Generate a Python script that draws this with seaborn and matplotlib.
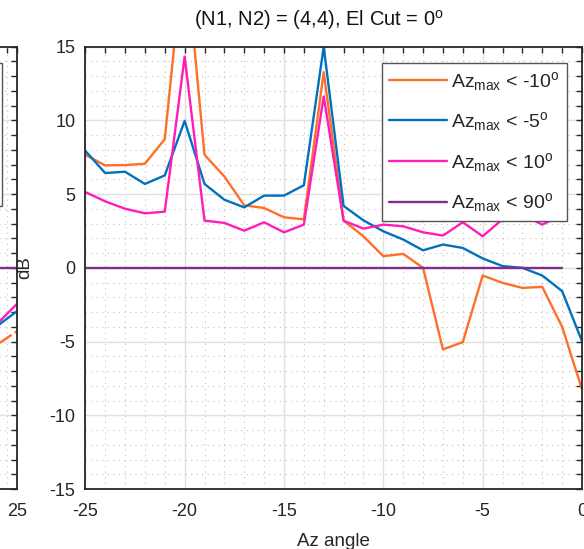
import numpy as np
import pandas as pd
import matplotlib
matplotlib.use("Agg")
import matplotlib.pyplot as plt
from matplotlib.ticker import MultipleLocator
import seaborn as sns

# datos (panel derecho)
az = list(range(-25, 1))
az_corto = list(range(-25, 0))

db_menos10 = [7.67, 6.95, 6.97, 7.06, 8.73, 22.0, 7.67, 6.2, 4.24, 4.06,
              3.43, 3.29, 13.27, 3.2, 2.14, 0.79, 0.95, 0.0, -5.53, -5.04,
              -0.52, -1.02, -1.36, -1.29, -4.0, -8.24]
db_menos5 = [7.94, 6.43, 6.52, 5.69, 6.27, 9.97, 5.69, 4.62, 4.1, 4.9,
             4.9, 5.6, 15.0, 4.2, 3.22, 2.48, 1.92, 1.19, 1.58, 1.35,
             0.64, 0.12, 0.0, -0.52, -1.58, -4.97]
db_10 = [5.14, 4.51, 4.01, 3.7, 3.81, 14.33, 3.2, 3.05, 2.52, 3.09,
         2.41, 2.93, 11.62, 3.2, 2.66, 2.93, 2.82, 2.41, 2.19, 3.09,
         2.14, 3.3, 3.6, 2.93, 3.6]
db_90 = [0.0] * 25

# trozo visible del panel izquierdo
az_izq = [23, 25]
izq_menos10 = [-5.2, -4.3]
izq_menos5 = [-3.95, -2.94]
izq_10 = [-3.8, -2.44]
izq_90 = [0.0, 0.0]

etiquetas = [r"Az$_{\rm max}$ < -10$^{\rm o}$",
             r"Az$_{\rm max}$ < -5$^{\rm o}$",
             r"Az$_{\rm max}$ < 10$^{\rm o}$",
             r"Az$_{\rm max}$ < 90$^{\rm o}$"]
colores = ["#FF6E2A", "#0072BD", "#FF1DB8", "#7E2F8E"]

sns.set_theme(style="white")
plt.rcParams['font.family'] = ['Liberation Sans', 'DejaVu Sans']
plt.rcParams['mathtext.fontset'] = 'custom'
plt.rcParams['mathtext.rm'] = 'Liberation Sans'
plt.rcParams['mathtext.it'] = 'Liberation Sans:italic'
plt.rcParams['axes.unicode_minus'] = False

fig = plt.figure(figsize=(5.84, 5.49), dpi=100)
W, H = 584, 549
ax = fig.add_axes([85.3 / W, 60 / H, 496.7 / W, 442.3 / H])
ax_izq = fig.add_axes([-479.7 / W, 60 / H, 496.7 / W, 442.3 / H])


def estilo_ejes(a):
    # cuadricula y ticks como en matlab
    a.set_ylim(-15, 15)
    a.yaxis.set_major_locator(MultipleLocator(5))
    a.yaxis.set_minor_locator(MultipleLocator(1))
    a.xaxis.set_major_locator(MultipleLocator(5))
    a.xaxis.set_minor_locator(MultipleLocator(1))
    a.grid(True, which='major', color='#e0e0e0', linewidth=1.0, linestyle='-')
    a.grid(True, which='minor', color='#c0c0c0', linewidth=0.8, linestyle=(0, (1, 4)))
    a.set_axisbelow(True)
    a.tick_params(which='both', direction='in', length=4, width=1.0,
                  top=True, right=True, color='#262626', labelsize=13,
                  labelcolor='#262626')
    a.tick_params(axis='y', pad=7)
    a.tick_params(axis='x', pad=10)
    for s in a.spines.values():
        s.set_color('#262626')
        s.set_linewidth(1.3)


# panel izquierdo (casi fuera de la imagen)
estilo_ejes(ax_izq)
ax_izq.set_xlim(-25, 25)
ax_izq.set_yticklabels([])
for y, c, ls in zip([izq_menos10, izq_menos5, izq_10, izq_90], colores,
                    ['-.', '-', '-', '-']):
    sns.lineplot(x=az_izq, y=y, ax=ax_izq, color=c, linewidth=1.7,
                 linestyle=ls, estimator=None, sort=False)
ax_izq.set_xlabel('')
ax_izq.set_ylabel('')

# panel derecho
estilo_ejes(ax)
ax.set_xlim(-25, 0)
series = [(az, db_menos10), (az, db_menos5), (az_corto, db_10), (az_corto, db_90)]
for (x, y), c, lab in zip(series, colores, etiquetas):
    sns.lineplot(x=x, y=y, ax=ax, color=c, linewidth=1.7, label=lab,
                 estimator=None, sort=False)

ax.set_title("(N1, N2) = (4,4), El Cut = 0$^{\\rm o}$", fontsize=14.5,
             color='#111111', x=0.47, pad=15)
ax.set_xlabel("Az angle", fontsize=13.5, color='#262626')
ax.set_ylabel("dB", fontsize=13.5, color='#262626')
ax.xaxis.set_label_coords(0.5, -0.0995)
ax.yaxis.set_label_coords(-0.105, 0.5)

h, l = ax.get_legend_handles_labels()
leg = ax.legend(h, l, loc='upper left', bbox_to_anchor=(381.7 / W, 1 - 63 / H),
                bbox_transform=fig.transFigure, fontsize=14, handlelength=3.0,
                handletextpad=0.22, labelspacing=0.9, borderpad=0.35,
                borderaxespad=0, fancybox=False, framealpha=1,
                edgecolor='#555555')
leg.get_frame().set_linewidth(1.0)
leg_izq = ax_izq.legend(h, l, loc='upper right', bbox_to_anchor=(2 / W, 1 - 63 / H),
                        bbox_transform=fig.transFigure, fontsize=14,
                        handlelength=3.0, labelspacing=0.6, borderaxespad=0,
                        fancybox=False, framealpha=1, edgecolor='#555555')

fig.savefig("out.png", dpi=100)
